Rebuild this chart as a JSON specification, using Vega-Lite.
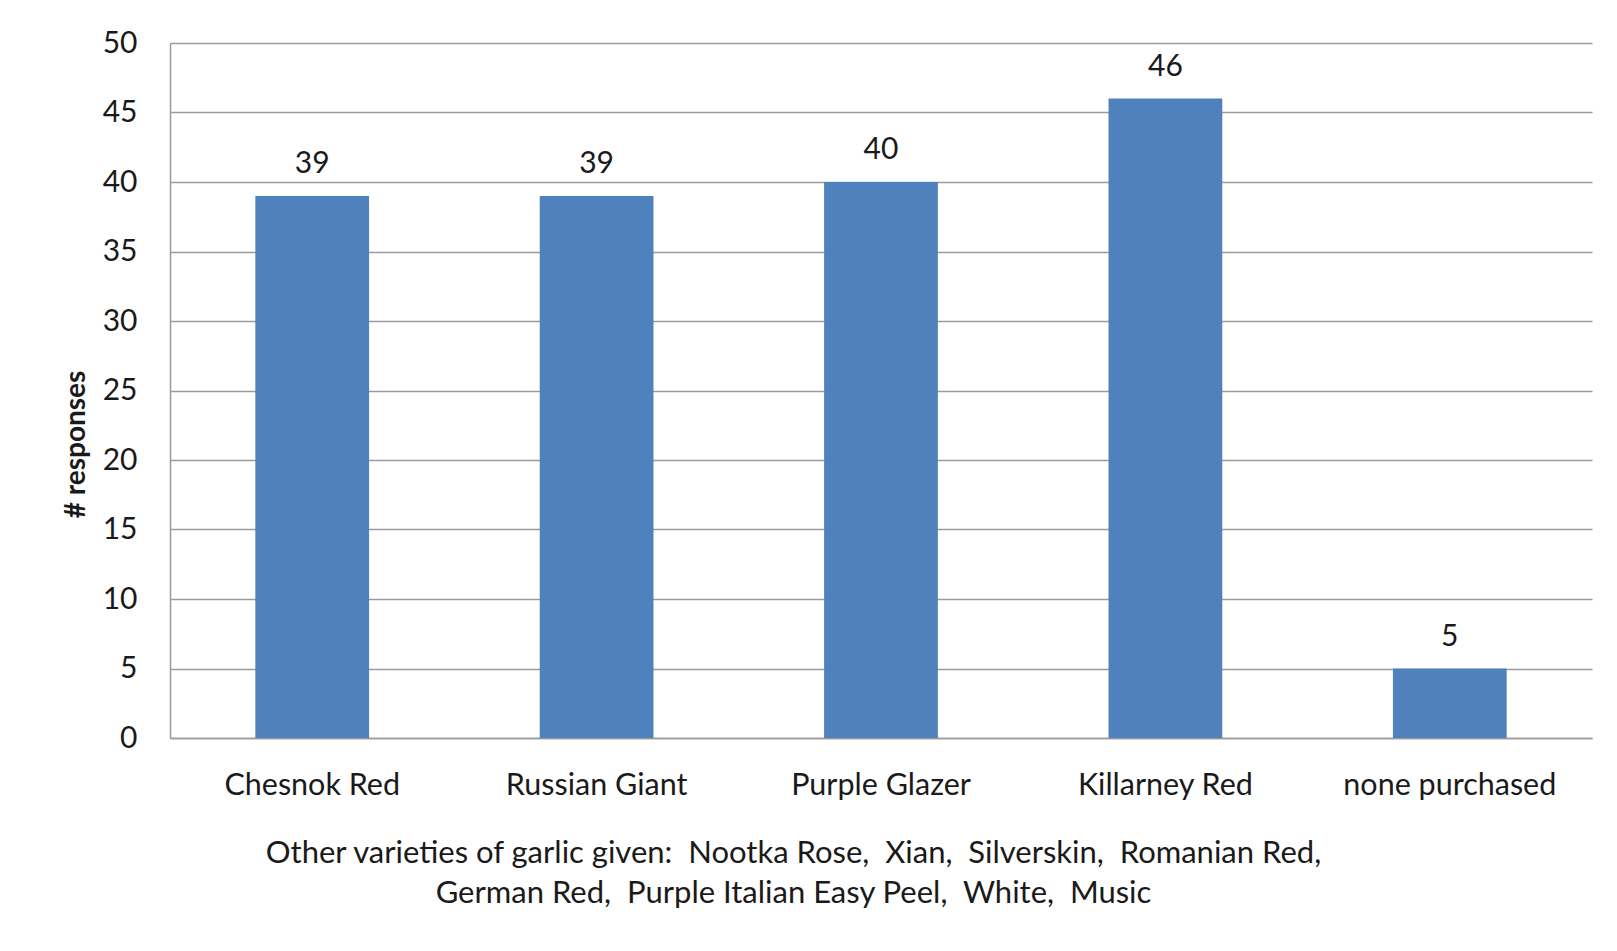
{
  "$schema": "https://vega.github.io/schema/vega-lite/v6.json",
  "width": 1422,
  "height": 695,
  "autosize": "none",
  "padding": {"left": 170, "top": 43, "right": 25, "bottom": 213},
  "background": "white",
  "data": {
    "values": [
      {"variety": "Chesnok Red", "responses": 39},
      {"variety": "Russian Giant", "responses": 39},
      {"variety": "Purple Glazer", "responses": 40},
      {"variety": "Killarney Red", "responses": 46},
      {"variety": "none purchased", "responses": 5}
    ]
  },
  "encoding": {
    "x": {
      "field": "variety",
      "type": "nominal",
      "sort": null,
      "scale": {"paddingInner": 0.6, "paddingOuter": 0.3},
      "axis": {
        "labelAngle": 0,
        "labelLimit": 0,
        "labelFont": "Lato",
        "labelFontSize": 30.5,
        "labelColor": "#1a1a1a",
        "labelPadding": 32,
        "ticks": false,
        "domainColor": "#9a9a9a",
        "domainWidth": 1.5,
        "title": [
          "Other varieties of garlic given: \u00a0Nootka Rose, \u00a0Xian, \u00a0Silverskin, \u00a0Romanian Red,",
          "German Red, \u00a0Purple Italian Easy Peel, \u00a0White, \u00a0Music"
        ],
        "titleFont": "Lato",
        "titleFontSize": 31,
        "titleFontWeight": "normal",
        "titleColor": "#1a1a1a",
        "titleLineHeight": 40,
        "titleAlign": "center",
        "titleBaseline": "top",
        "titleX": 623,
        "titleY": 100
      }
    },
    "y": {
      "field": "responses",
      "type": "quantitative",
      "scale": {"domain": [0, 50], "nice": false},
      "axis": {
        "values": [0, 5, 10, 15, 20, 25, 30, 35, 40, 45, 50],
        "ticks": false,
        "labelFont": "Lato",
        "labelFontSize": 30,
        "labelColor": "#1a1a1a",
        "labelPadding": 33,
        "domainColor": "#9a9a9a",
        "domainWidth": 1.5,
        "gridColor": "#9a9a9a",
        "gridWidth": 1.5,
        "title": "# responses",
        "titleFont": "Lato",
        "titleFontSize": 28,
        "titleFontWeight": "bold",
        "titleColor": "#1a1a1a",
        "titlePadding": 12,
        "titleY": 401
      }
    }
  },
  "layer": [
    {
      "mark": {"type": "bar", "color": "#4F81BD"}
    },
    {
      "mark": {
        "type": "text",
        "baseline": "bottom",
        "dy": -17,
        "font": "Lato",
        "fontSize": 30,
        "color": "#1a1a1a"
      },
      "encoding": {
        "text": {"field": "responses", "type": "quantitative"}
      }
    }
  ],
  "config": {
    "view": {"stroke": null}
  }
}
